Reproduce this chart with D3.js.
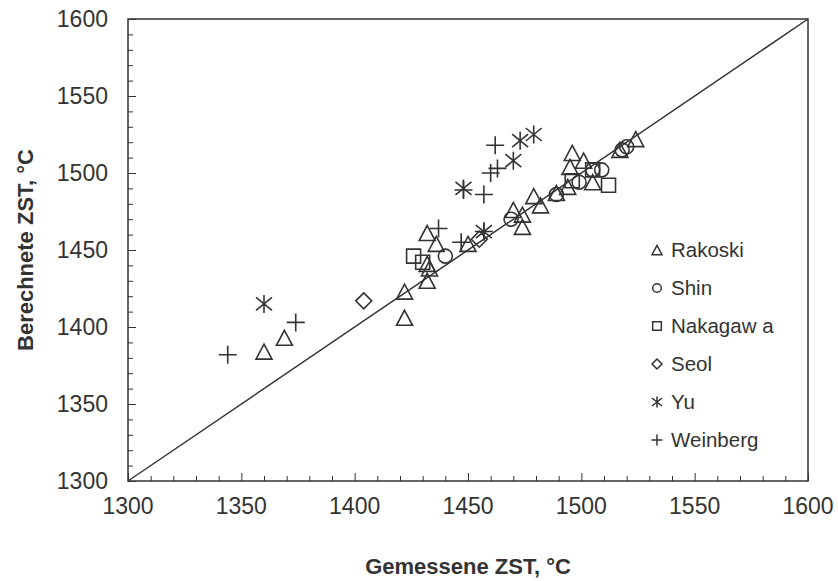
<!DOCTYPE html>
<html><head><meta charset="utf-8">
<script src="https://cdn.jsdelivr.net/npm/d3@7"></script>
<style>body{margin:0;background:#fff}svg{display:block}text{font-family:"Liberation Sans",Arial,sans-serif;fill:#333}</style>
</head><body><svg id="c" width="838" height="581"></svg>
<script>
const xTicks = [1300,1350,1400,1450,1500,1550,1600];
const yTicks = [1300,1350,1400,1450,1500,1550,1600];
const seriesNames = ["Rakoski","Shin","Nakagawa","Seol","Yu","Weinberg"];
const legendLabels = ["Rakoski","Shin","Nakagaw a","Seol","Yu","Weinberg"];
const rakoskiX = [1360,1369,1422,1422,1432,1436,1432,1433,1432,1450,1470,1474,1474,1479,1482,1489,1495,1496,1501,1505,1494,1517,1524];
const rakoskiY = [1384,1393,1406,1423,1461,1454,1441,1438,1430,1454,1476,1473,1465,1485,1479,1487,1504,1513,1508,1494,1491,1515,1522];
const shinX = [1440,1469,1489,1499,1505,1509,1518,1520];
const shinY = [1446,1470,1486,1494,1502,1502,1515,1517];
const nakagawaX = [1426,1430,1496,1505,1512];
const nakagawaY = [1446,1442,1495,1502,1492];
const seolX = [1404,1455];
const seolY = [1417,1457];
const yuX = [1360,1448,1457,1470,1473,1479];
const yuY = [1415,1490,1462,1508,1521,1525];
const weinbergX = [1344,1374,1437,1447,1448,1457,1457,1460,1463,1462];
const weinbergY = [1382,1403,1464,1455,1489,1462,1486,1500,1503,1518];

const seriesX = [rakoskiX,shinX,nakagawaX,seolX,yuX,weinbergX];
const seriesY = [rakoskiY,shinY,nakagawaY,seolY,yuY,weinbergY];

const svg = d3.select("#c");
const L=128,R=808,T=19,B=481;
const x = d3.scaleLinear().domain([1300,1600]).range([L,R]);
const y = d3.scaleLinear().domain([1300,1600]).range([B,T]);
const col="#333";

function markerPath(type, s){
  const p = d3.path();
  if(type===0){ const w=8*s,h=7.5*s; p.moveTo(0,-h); p.lineTo(w,h); p.lineTo(-w,h); p.closePath(); }
  else if(type===1){ const r=7*s; p.moveTo(r,0); p.arc(0,0,r,0,2*Math.PI); }
  else if(type===2){ const a=7*s; p.rect(-a,-a,2*a,2*a); }
  else if(type===3){ const a=8*s; p.moveTo(0,-a); p.lineTo(a,0); p.lineTo(0,a); p.lineTo(-a,0); p.closePath(); }
  else if(type===4){ const a=9*s, dx=8*s, dy=6.5*s; p.moveTo(0,-a); p.lineTo(0,a); p.moveTo(-dx,-dy); p.lineTo(dx,dy); p.moveTo(-dx,dy); p.lineTo(dx,-dy); }
  else { const a=9*s; p.moveTo(-a,0); p.lineTo(a,0); p.moveTo(0,-a); p.lineTo(0,a); }
  return p.toString();
}

svg.append("line").attr("x1",x(1300)).attr("y1",y(1300)).attr("x2",x(1600)).attr("y2",y(1600))
  .attr("stroke",col).attr("stroke-width",1.5);

svg.append("rect").attr("x",L).attr("y",T).attr("width",R-L).attr("height",B-T)
  .attr("fill","none").attr("stroke",col).attr("stroke-width",1.5);

const xAxis = d3.axisTop(x).tickValues(d3.range(1300,1601,10)).tickSize(5).tickFormat("");
const gx = svg.append("g").attr("transform",`translate(0,${B})`).call(xAxis);
gx.select(".domain").remove();
gx.selectAll(".tick line").attr("stroke",col).attr("stroke-width",1)
  .attr("y2",d=>d%50===0?-8:-5);
const yAxis = d3.axisRight(y).tickValues(d3.range(1300,1601,10)).tickSize(5).tickFormat("");
const gy = svg.append("g").attr("transform",`translate(${L},0)`).call(yAxis);
gy.select(".domain").remove();
gy.selectAll(".tick line").attr("stroke",col).attr("stroke-width",1)
  .attr("x2",d=>d%50===0?8:5);

svg.append("g").selectAll("text").data(xTicks).join("text")
  .attr("x",d=>x(d)).attr("y",B+33).attr("text-anchor","middle")
  .attr("font-size",23).text(d=>d);
svg.append("g").selectAll("text").data(yTicks).join("text")
  .attr("x",L-20).attr("y",d=>y(d)+8).attr("text-anchor","end")
  .attr("font-size",23).text(d=>d);

svg.append("text").attr("x",(L+R)/2).attr("y",574).attr("text-anchor","middle")
  .attr("font-size",22).attr("font-weight","bold").text("Gemessene ZST, °C");
svg.append("text").attr("transform",`translate(33,${(T+B)/2}) rotate(-90)`).attr("text-anchor","middle")
  .attr("font-size",22).attr("font-weight","bold").text("Berechnete ZST, °C");

seriesNames.forEach((name,i)=>{
  const pts = seriesX[i].map((v,j)=>[v,seriesY[i][j]]);
  svg.append("g").selectAll("path").data(pts).join("path")
    .attr("transform",d=>`translate(${x(d[0])},${y(d[1])})`)
    .attr("d",markerPath(i,1)).attr("fill","none").attr("stroke",col).attr("stroke-width",1.6);
});

const lg = svg.append("g");
legendLabels.forEach((lab,i)=>{
  const cy = 250 + i*38;
  lg.append("path").attr("transform",`translate(657,${cy})`).attr("d",markerPath(i,0.62))
    .attr("fill","none").attr("stroke",col).attr("stroke-width",1.5);
  lg.append("text").attr("x",671).attr("y",cy+7).attr("font-size",20.5).text(lab);
});
</script></body></html>
